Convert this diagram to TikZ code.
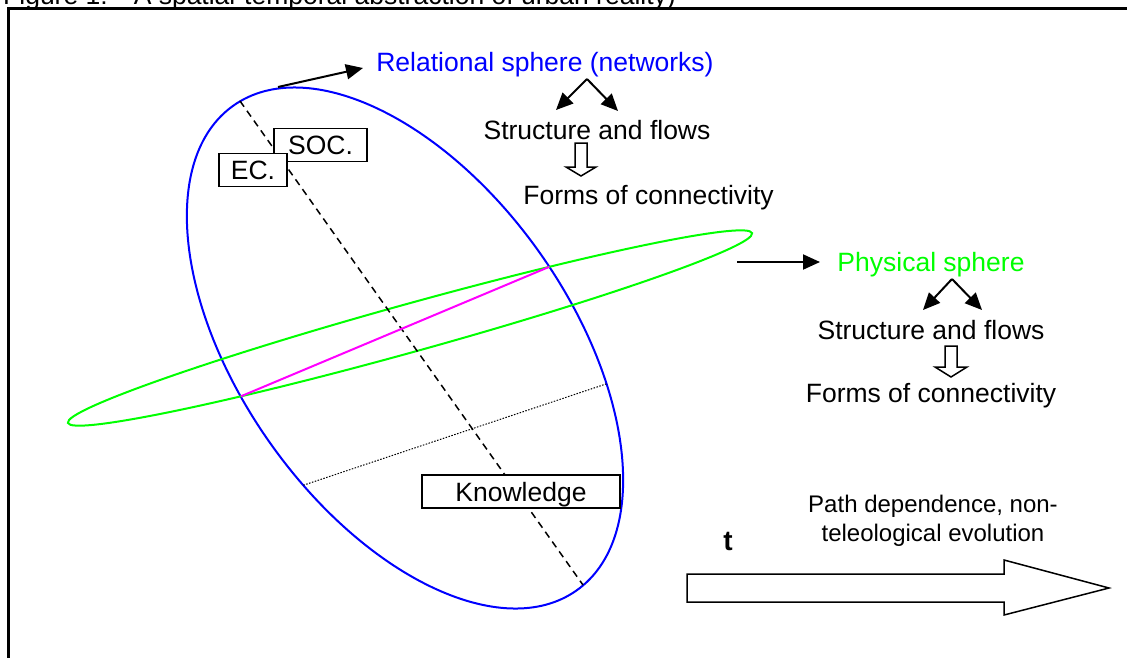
\documentclass[tikz,border=0pt]{standalone}
\usepackage{fontspec}
\setmainfont{Liberation Sans}
\usepackage{tikz}
\usetikzlibrary{arrows.meta, calc}
\definecolor{relblue}{RGB}{0,0,255}
\definecolor{physgreen}{RGB}{0,255,0}
\definecolor{chordpink}{RGB}{255,0,255}
\newcommand{\lblfont}{\fontsize{26.5}{31}\selectfont}
\newcommand{\pathfont}{\fontsize{24}{28.5}\selectfont}
\tikzstyle{txt} = [inner sep=0pt, font=\lblfont, anchor=base]
\tikzstyle{tag} = [rectangle, draw=black, line width=1.5pt, fill=white, font=\lblfont, text height=19pt, text depth=0pt, inner sep=0pt, minimum height=33pt]
\tikzstyle{pointer} = [line width=2pt, -{Triangle[length=17pt, width=15pt]}]
\tikzstyle{hollow} = [line width=1.5pt, draw=black, fill=white]

\begin{document}
\begin{tikzpicture}[x=1pt, y=-1pt]
\useasboundingbox (0,0) rectangle (1127,657);

% frame and caption
\node[txt, anchor=base west] (title) at (3,4) {Figure 1: - A spatial-temporal abstraction of urban reality)};
\draw[line width=3pt] (8.5,670) -- (8.5,8.5) -- (1140,8.5);

% the two spheres
\draw[relblue, line width=2pt, rotate around={-54.7:(405,348)}] (405,348) ellipse [x radius=297, y radius=165];
\draw[physgreen, line width=2pt, rotate around={15.5:(410,328)}] (410,328) ellipse [x radius=355, y radius=24];

\coordinate (axisTop) at (240,101);
\coordinate (axisBot) at (583,585);
\coordinate (chordL) at (240.9,396.3);
\coordinate (chordR) at (549.3,266.8);
\coordinate (dotL) at (303.4,485.2);
\coordinate (dotR) at (606.8,383.7);
\draw[line width=1.5pt, dash pattern=on 7pt off 5pt] (axisTop) -- (axisBot);
\draw[chordpink, line width=2pt] (chordL) -- (chordR);
\draw[line width=1pt, dash pattern=on 1.5pt off 1.5pt] (dotL) -- (dotR);

% boxes on the axis
\node[tag, minimum width=93pt] (soc) at (320.5,145) {SOC.};
\node[tag, minimum width=68pt] (ec) at (253,170) {EC.};
\node[tag, minimum width=198pt] (know) at (521,491.5) {Knowledge};

% relational sphere
\node[txt, text=relblue] (relsph) at (545,71) {Relational sphere (networks)};
\node[txt] (relsf) at (597,139) {Structure and flows};
\node[txt] (relfc) at (648.5,204) {Forms of connectivity};
\coordinate (relfrom) at (278,87);
\coordinate (relto) at (363,68);
\draw[pointer] (relfrom) -- (relto);
\coordinate (relfork) at (587,79);
\coordinate (relforkL) at (556,110);
\coordinate (relforkR) at (618,111);
\draw[pointer] (relfork) -- (relforkL);
\draw[pointer] (relfork) -- (relforkR);
\draw[hollow, shift={(581,143)}] (-6,0) -- (-6,24) -- (-15,24) -- (0,33) -- (15,24) -- (6,24) -- (6,0) -- cycle;

% physical sphere
\node[txt, text=physgreen] (physph) at (931,271) {Physical sphere};
\node[txt] (physsf) at (931,339) {Structure and flows};
\node[txt] (physfc) at (931,402) {Forms of connectivity};
\coordinate (physfrom) at (737,262);
\coordinate (physto) at (820,262);
\draw[pointer] (physfrom) -- (physto);
\coordinate (physfork) at (952,279);
\coordinate (physforkL) at (923,310);
\coordinate (physforkR) at (982,310);
\draw[pointer] (physfork) -- (physforkL);
\draw[pointer] (physfork) -- (physforkR);
\draw[hollow, shift={(951,346)}] (-6,0) -- (-6,21) -- (-16,21) -- (0,31) -- (16,21) -- (6,21) -- (6,0) -- cycle;

% time
\node[txt, font=\fontsize{28}{32}\selectfont\bfseries] (tlab) at (728,550) {t};
\node[inner sep=0pt, font=\pathfont, align=center] (pathdep) at (933,521) {Path dependence, non-\\teleological evolution};
\draw[hollow] (687,574) -- (1004,574) -- (1004,560) -- (1109,588) -- (1004,615) -- (1004,602) -- (687,602) -- cycle;

\end{tikzpicture}
\end{document}
